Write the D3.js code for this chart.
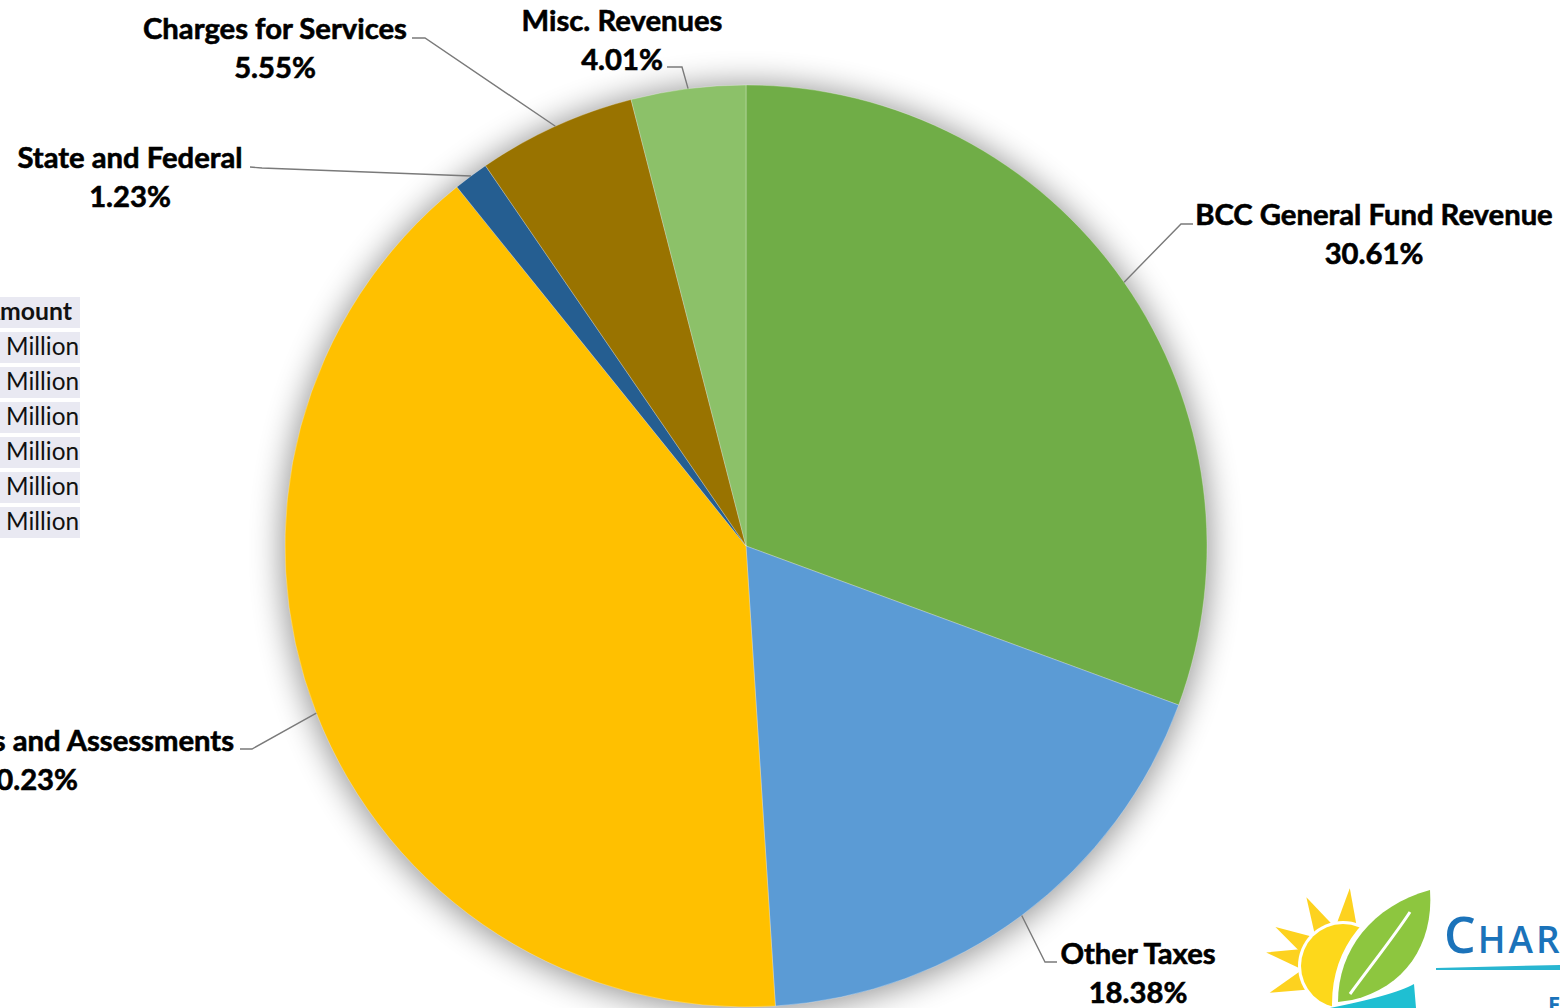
<!DOCTYPE html>
<html>
<head>
<meta charset="utf-8">
<script src="https://cdn.jsdelivr.net/npm/d3@7"></script>
<style>
  html, body { margin: 0; padding: 0; background: #ffffff; overflow: hidden; }
  svg { display: block; }
</style>
</head>
<body>
<svg id="chart" width="1560" height="1008"></svg>
<script>
// Revenue sources and their share of total revenue (percent)
const categories = [
  "BCC General Fund Revenue",
  "Other Taxes",
  "Ad Valorem Taxes and Assessments",
  "State and Federal",
  "Charges for Services",
  "Misc. Revenues"
];
const shares = [30.61, 18.38, 40.23, 1.23, 5.55, 4.01];
const sliceColors = ["#70AD47", "#5B9BD5", "#FFC000", "#255E91", "#997300", "#8CC169"];

// Amount column of the side table
const tableHeader = "Amount";
const tableCells = ["Million", "Million", "Million", "Million", "Million", "Million"];

// Label placement: text anchor, first baseline and leader line bend/end
const labelLayout = [
  { x: 1374, base: 225, anchor: "middle", bend: [1181, 224], end: [1193, 224] },
  { x: 1138, base: 964, anchor: "middle", bend: [1045, 962], end: [1057, 962] },
  { x: 234,  base: 751, anchor: "end",    bend: [252, 749],  end: [240, 749], x2: 78 },
  { x: 130,  base: 168, anchor: "middle", bend: [262, 168],  end: [250, 167] },
  { x: 275,  base: 39,  anchor: "middle", bend: [425, 38],   end: [412, 38] },
  { x: 622,  base: 31,  anchor: "middle", bend: [682, 67],   end: [667, 67] }
];

const svg = d3.select("#chart");
const cx = 746, cy = 546, radius = 461;
const lineGap = 39;
const labelFont = "Lato, 'Open Sans', sans-serif";

// Size a font so that a sample string takes the given width
function fitSize(sample, weight, width) {
  const t = svg.append("text").attr("font-family", labelFont).attr("font-weight", weight)
    .attr("font-size", 30).text(sample);
  const w = t.node().getComputedTextLength();
  t.remove();
  return 30 * width / w;
}
const labelSize = Math.min(32, fitSize("Charges for Services", 700, 264));
const tableSize = fitSize("Million", 400, 73);
const headerSize = fitSize("mount", 700, 72);

const defs = svg.append("defs");
const shadow = defs.append("filter").attr("id", "pieShadow")
  .attr("x", -0.2).attr("y", -0.2).attr("width", 1.4).attr("height", 1.4);
shadow.append("feGaussianBlur").attr("stdDeviation", 16);

// Side table (partly outside the view on the left)
const table = svg.append("g").attr("class", "amount-table");
const rowTop = d3.scaleLinear().domain([0, 1]).range([297, 332]);
const rows = [tableHeader].concat(tableCells);
table.selectAll("rect").data(rows).join("rect")
  .attr("x", -40).attr("y", (d, i) => rowTop(i)).attr("width", 120).attr("height", 31)
  .attr("fill", "#E9E9F2");
table.selectAll("text").data(rows).join("text")
  .attr("x", (d, i) => i === 0 ? 72 : 79)
  .attr("y", (d, i) => rowTop(i) + 23)
  .attr("text-anchor", "end")
  .attr("font-family", labelFont)
  .attr("font-weight", (d, i) => i === 0 ? 700 : 400)
  .attr("font-size", (d, i) => i === 0 ? headerSize : tableSize)
  .attr("fill", "#111")
  .text(d => d);

// Soft glow behind the pie
svg.append("circle").attr("cx", cx).attr("cy", cy + 2).attr("r", radius + 3)
  .attr("fill", "#000").attr("opacity", 0.42).attr("filter", "url(#pieShadow)");

const pie = d3.pie().sort(null).startAngle(0).endAngle(2 * Math.PI).value(d => d);
const arcs = pie(shares);
const arc = d3.arc().innerRadius(0).outerRadius(radius);

const g = svg.append("g").attr("transform", `translate(${cx},${cy})`);
g.selectAll("path.slice").data(arcs).join("path")
  .attr("class", "slice")
  .attr("d", arc)
  .attr("fill", (d, i) => sliceColors[i])
  .attr("stroke", "#ffffff").attr("stroke-opacity", 0.35).attr("stroke-width", 0.8);

// Leader lines from each slice's mid-angle on the rim
const rimPoint = d => {
  const a = (d.startAngle + d.endAngle) / 2;
  return [cx + radius * Math.sin(a), cy - radius * Math.cos(a)];
};
svg.append("g").selectAll("path").data(arcs).join("path")
  .attr("d", (d, i) => d3.line()([rimPoint(d), labelLayout[i].bend, labelLayout[i].end]))
  .attr("fill", "none").attr("stroke", "#7a7a7a").attr("stroke-width", 1.4);

// Labels: category name and percentage
const labels = svg.append("g").attr("font-family", labelFont).attr("font-weight", 700)
  .attr("font-size", labelSize).attr("fill", "#000")
  .attr("stroke", "#000").attr("stroke-width", 0.6);
arcs.forEach((d, i) => {
  const L = labelLayout[i];
  labels.append("text").attr("x", L.x).attr("y", L.base).attr("text-anchor", L.anchor)
    .text(categories[i]);
  labels.append("text").attr("x", L.x2 !== undefined ? L.x2 : L.x).attr("y", L.base + lineGap)
    .attr("text-anchor", L.anchor).text(d3.format(".2f")(shares[i]) + "%");
});

// County logo, bottom right
const logo = svg.append("g").attr("class", "logo");
const sunC = [1343, 966], sunR = 42;
const rayAngles = [-150, -118, -85, -52, 160, 190];
rayAngles.forEach(deg => {
  const a = deg * Math.PI / 180;
  const tip = [sunC[0] + Math.cos(a) * 78, sunC[1] + Math.sin(a) * 78];
  const l = [sunC[0] + Math.cos(a - 0.22) * 44, sunC[1] + Math.sin(a - 0.22) * 44];
  const r = [sunC[0] + Math.cos(a + 0.22) * 44, sunC[1] + Math.sin(a + 0.22) * 44];
  logo.append("path").attr("d", d3.line()([l, tip, r]) + "Z").attr("fill", "#FDD21F");
});
logo.append("circle").attr("cx", sunC[0]).attr("cy", sunC[1]).attr("r", sunR + 3).attr("fill", "#fff");
logo.append("circle").attr("cx", sunC[0]).attr("cy", sunC[1]).attr("r", sunR).attr("fill", "#FDD81B");
logo.append("path")
  .attr("d", "M1336,1004 C1336,950 1370,905 1432,888 C1436,945 1405,990 1352,1002 Z")
  .attr("fill", "#fff").attr("stroke", "#fff").attr("stroke-width", 8);
logo.append("path")
  .attr("d", "M1338,1002 C1338,950 1372,906 1430,890 C1434,945 1404,988 1352,1000 Z")
  .attr("fill", "#8DC63F");
logo.append("path").attr("d", "M1350,994 C1375,960 1395,935 1410,912")
  .attr("fill", "none").attr("stroke", "#fff").attr("stroke-width", 3);
logo.append("path").attr("d", "M1330,1008 C1370,1000 1400,992 1414,984 L1416,1008 Z")
  .attr("fill", "#1FBFD2");
logo.append("path").attr("d", "M1436,968 L1560,965 L1560,970 L1436,970 Z").attr("fill", "#29B6D1");
const logoText = logo.append("text").attr("x", 1444).attr("y", 953)
  .attr("font-family", "'Open Sans', sans-serif").attr("font-weight", 600).attr("fill", "#1B73BA");
logoText.append("tspan").attr("font-size", 50).text("C");
logoText.append("tspan").attr("font-size", 37).attr("letter-spacing", 3).attr("dx", 2).text("HARLOTTE");
logo.append("text").attr("x", 1548).attr("y", 1012).attr("font-family", "'Open Sans', sans-serif")
  .attr("font-weight", 700).attr("font-size", 22).attr("fill", "#1B73BA").text("F");
</script>
</body>
</html>
